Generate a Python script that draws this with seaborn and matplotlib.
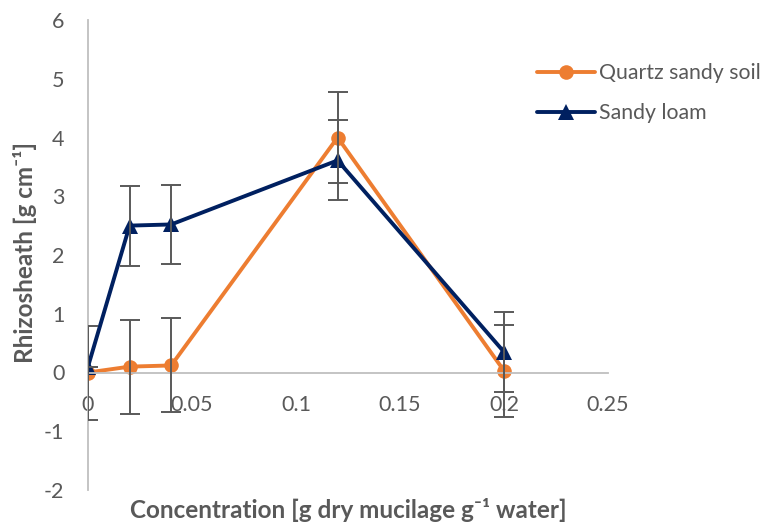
import matplotlib
matplotlib.use("Agg")
import matplotlib.pyplot as plt
import seaborn as sns
import pandas as pd
import numpy as np

conc = [0.0, 0.02, 0.04, 0.12, 0.2]
quartz = [0.0, 0.10, 0.12, 4.00, 0.03]
quartz_err = [0.80, 0.80, 0.80, 0.78, 0.78]
loam = [0.10, 2.50, 2.52, 3.61, 0.35]
loam_err = [0.0, 0.68, 0.68, 0.68, 0.68]
series_names = ["Quartz sandy soil", "Sandy loam"]
x_ticks = [0, 0.05, 0.1, 0.15, 0.2, 0.25]
x_tick_labels = ["0", "0.05", "0.1", "0.15", "0.2", "0.25"]
y_ticks = [-2, -1, 0, 1, 2, 3, 4, 5, 6]

sns.set_style("white")
plt.rcParams['font.family'] = ['Lato', 'DejaVu Sans']
plt.rcParams['axes.unicode_minus'] = False

df = pd.DataFrame({
    "conc": conc * 2,
    "value": quartz + loam,
    "series": [series_names[0]] * len(conc) + [series_names[1]] * len(conc),
})

colors = {series_names[0]: "#ED7D31", series_names[1]: "#002060"}
gray = "#595959"

fig = plt.figure(figsize=(7.72, 5.22), dpi=100)
ax = fig.add_axes([88/772, 1 - 490/522, (608 - 88)/772, (490 - 20)/522])

sns.lineplot(data=df, x="conc", y="value", hue="series", style="series",
             markers={series_names[0]: "o", series_names[1]: "^"}, dashes=False,
             palette=colors, linewidth=2.8, markersize=10.5, markeredgewidth=0,
             ax=ax, sort=False)
for ln in ax.lines:
    if ln.get_marker() == "^":
        ln.set_markersize(12)

ax.errorbar(conc, quartz, yerr=quartz_err, fmt="none", ecolor=gray, elinewidth=1.4,
            capsize=7, capthick=1.4, zorder=5)
ax.errorbar(conc, loam, yerr=loam_err, fmt="none", ecolor=gray, elinewidth=1.4,
            capsize=7, capthick=1.4, zorder=5)

ax.set_xlim(0, 0.25)
ax.set_ylim(-2, 6)
ax.set_xticks(x_ticks)
ax.set_xticklabels(x_tick_labels)
ax.set_yticks(y_ticks)
ax.spines['bottom'].set_position(('data', 0))
ax.spines['left'].set_position(('data', 0))
ax.spines['top'].set_visible(False)
ax.spines['right'].set_visible(False)
for s in ('bottom', 'left'):
    ax.spines[s].set_color("#BFBFBF")
    ax.spines[s].set_linewidth(1.3)
ax.tick_params(axis='both', length=0, labelsize=15.5, labelcolor=gray)
ax.tick_params(axis='y', pad=17)
ax.tick_params(axis='x', pad=16)

ax.set_xlabel("")
ax.set_ylabel("")
fig.text(348/772, 1 - 510/522, "Concentration [g dry mucilage g\u207b\u00b9 water]",
         ha="center", va="center", fontsize=17.5, fontweight="bold", color=gray)
fig.text(25/772, 1 - 252/522, "Rhizosheath [g cm\u207b\u00b9]", rotation=90,
         ha="center", va="center", fontsize=17.5, fontweight="bold", color=gray)

ax.legend_.remove()
handles, labels = ax.get_legend_handles_labels()
leg = fig.legend(handles, labels, loc="upper left", bbox_to_anchor=(518/772, 1 - 44/522),
                 frameon=False, fontsize=15.3, handlelength=2.7, handletextpad=0.2,
                 labelspacing=0.95)
for t in leg.get_texts():
    t.set_color(gray)

fig.savefig("out.png", dpi=100)
